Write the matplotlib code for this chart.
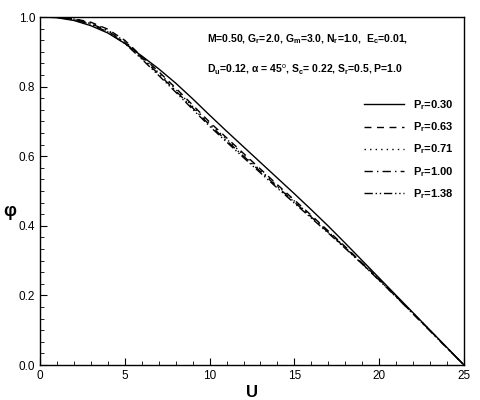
import matplotlib
matplotlib.use("Agg")
import matplotlib.pyplot as plt
from matplotlib.ticker import MultipleLocator

plt.rcParams['font.family'] = ['Liberation Sans', 'DejaVu Sans']
plt.rcParams['mathtext.fontset'] = 'custom'
plt.rcParams['mathtext.rm'] = 'Liberation Sans'
plt.rcParams['mathtext.bf'] = 'Liberation Sans:bold'
plt.rcParams['mathtext.it'] = 'Liberation Sans:italic'

U = [0, 1, 2, 3, 4, 5, 6, 7, 8, 9, 10, 11, 12, 13, 14, 15, 16, 17, 18, 19, 20, 21, 22, 23, 24, 25]
phi_030 = [1.0, 0.998, 0.990, 0.975, 0.954, 0.924, 0.888, 0.851, 0.810, 0.765, 0.718, 0.672, 0.627, 0.582, 0.537, 0.492, 0.446, 0.399, 0.350, 0.300, 0.250, 0.200, 0.150, 0.100, 0.050, 0.0]
phi_063 = [1.0, 0.999, 0.995, 0.985, 0.965, 0.933, 0.887, 0.843, 0.796, 0.747, 0.698, 0.653, 0.608, 0.563, 0.518, 0.474, 0.430, 0.385, 0.340, 0.293, 0.246, 0.197, 0.148, 0.099, 0.049, 0.0]
phi_071 = [1.0, 0.999, 0.994, 0.983, 0.962, 0.930, 0.885, 0.840, 0.792, 0.743, 0.694, 0.649, 0.604, 0.559, 0.515, 0.471, 0.427, 0.383, 0.338, 0.292, 0.245, 0.197, 0.148, 0.099, 0.049, 0.0]
phi_100 = [1.0, 0.999, 0.993, 0.981, 0.960, 0.927, 0.882, 0.836, 0.788, 0.739, 0.690, 0.645, 0.600, 0.556, 0.512, 0.468, 0.425, 0.381, 0.337, 0.291, 0.244, 0.196, 0.147, 0.098, 0.049, 0.0]
phi_138 = [1.0, 0.999, 0.992, 0.979, 0.957, 0.924, 0.879, 0.832, 0.784, 0.735, 0.686, 0.641, 0.596, 0.552, 0.508, 0.465, 0.422, 0.379, 0.335, 0.290, 0.243, 0.196, 0.147, 0.098, 0.049, 0.0]

labels = ["P$_\\mathbf{r}$=0.30", "P$_\\mathbf{r}$=0.63", "P$_\\mathbf{r}$=0.71",
          "P$_\\mathbf{r}$=1.00", "P$_\\mathbf{r}$=1.38"]
series = [phi_030, phi_063, phi_071, phi_100, phi_138]
styles = ['-', (0, (5, 4)), (0, (1, 3)), (0, (6, 3, 1, 3)), (0, (6, 2, 1, 2, 1, 2))]

fig = plt.figure(figsize=(4.8, 4.0), dpi=100)
ax = fig.add_axes([40/480, 35/400, 424/480, 348/400])

for y, lab, ls in zip(series, labels, styles):
    ax.plot(U, y, color='black', linestyle=ls, linewidth=1.0, label=lab)

ax.set_xlim(0, 25)
ax.set_ylim(0, 1.0)
ax.xaxis.set_major_locator(MultipleLocator(5))
ax.xaxis.set_minor_locator(MultipleLocator(1))
ax.yaxis.set_major_locator(MultipleLocator(0.2))
ax.yaxis.set_minor_locator(MultipleLocator(0.2/6))
ax.tick_params(which='both', direction='in', top=False, right=False, labelsize=8.5)
ax.tick_params(which='major', length=5)
ax.tick_params(which='minor', length=3)
ax.set_xticks([0, 5, 10, 15, 20, 25])
ax.set_xticklabels(['0', '5', '10', '15', '20', '25'])
ax.set_yticks([0, 0.2, 0.4, 0.6, 0.8, 1.0])
ax.set_yticklabels(['0.0', '0.2', '0.4', '0.6', '0.8', '1.0'])
for s in ax.spines.values():
    s.set_linewidth(1.0)

ax.set_xlabel('U', fontsize=12, fontweight='bold', labelpad=2)
ax.set_ylabel('φ', fontsize=13, fontweight='bold', rotation=0, va='center', ha='center')
ax.yaxis.set_label_coords(-0.072, 0.44)

ax.text(0.395, 0.935, "M=0.50, G$_\\mathbf{r}$=2.0, G$_\\mathbf{m}$=3.0, N$_\\mathbf{r}$=1.0,  E$_\\mathbf{c}$=0.01,",
        transform=ax.transAxes, fontsize=7.5, fontweight='bold', va='center')
ax.text(0.395, 0.85, "D$_\\mathbf{u}$=0.12, α = 45$^\\mathrm{o}$, S$_\\mathbf{c}$= 0.22, S$_\\mathbf{r}$=0.5, P=1.0",
        transform=ax.transAxes, fontsize=7.5, fontweight='bold', va='center')

leg = ax.legend(loc='upper right', bbox_to_anchor=(1.0, 0.795), frameon=False,
                prop={'weight': 'bold', 'size': 8}, handlelength=3.6,
                labelspacing=0.75, handletextpad=0.8)

fig.savefig('out.png', dpi=100)
